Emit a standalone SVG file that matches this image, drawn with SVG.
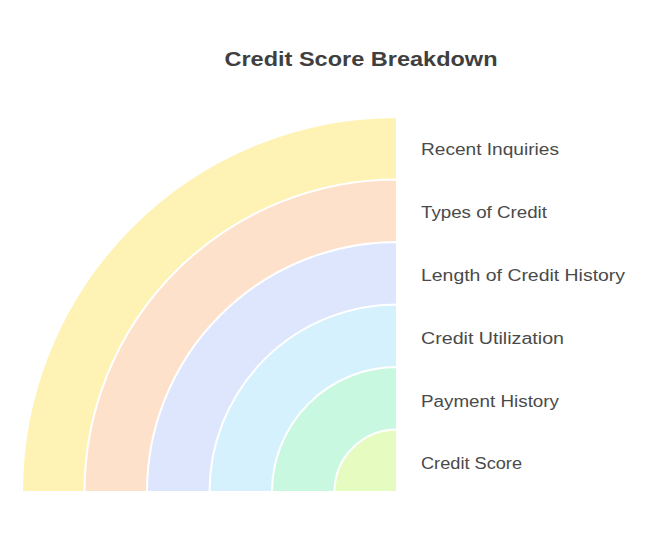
<svg xmlns="http://www.w3.org/2000/svg" width="650" height="536" viewBox="0 0 650 536">
<style>
.band{stroke:#ffffff;stroke-width:2;stroke-linejoin:round}
.lbl{font-family:"Liberation Sans",Arial,sans-serif;font-size:16px;fill:#4a4a4a}
.title{font-family:"Liberation Sans",Arial,sans-serif;font-size:21px;font-weight:bold;fill:#3f3f3f}
</style>
<rect width="650" height="536" fill="#ffffff"/>
<text class="title" x="361" y="66" text-anchor="middle" textLength="273" lengthAdjust="spacingAndGlyphs">Credit Score Breakdown</text>
<g id="recent-inquiries">
<path class="band" fill="#fef3b4" d="M397 492 L22 492 A375 375 0 0 1 397 117 Z"/>
<text class="lbl" x="421" y="155" textLength="138" lengthAdjust="spacingAndGlyphs">Recent Inquiries</text>
</g>
<g id="types-of-credit">
<path class="band" fill="#fee1cb" d="M397 492 L84.5 492 A312.5 312.5 0 0 1 397 179.5 Z"/>
<text class="lbl" x="421" y="218" textLength="126" lengthAdjust="spacingAndGlyphs">Types of Credit</text>
</g>
<g id="length-of-credit-history">
<path class="band" fill="#dde6fd" d="M397 492 L147 492 A250 250 0 0 1 397 242 Z"/>
<text class="lbl" x="421" y="281" textLength="204" lengthAdjust="spacingAndGlyphs">Length of Credit History</text>
</g>
<g id="credit-utilization">
<path class="band" fill="#d5f1fd" d="M397 492 L209.5 492 A187.5 187.5 0 0 1 397 304.5 Z"/>
<text class="lbl" x="421" y="344" textLength="143" lengthAdjust="spacingAndGlyphs">Credit Utilization</text>
</g>
<g id="payment-history">
<path class="band" fill="#c8f9e0" d="M397 492 L272 492 A125 125 0 0 1 397 367 Z"/>
<text class="lbl" x="421" y="407" textLength="138" lengthAdjust="spacingAndGlyphs">Payment History</text>
</g>
<g id="credit-score">
<path class="band" fill="#e6fbc0" d="M397 492 L334.5 492 A62.5 62.5 0 0 1 397 429.5 Z"/>
<text class="lbl" x="421" y="469" textLength="101" lengthAdjust="spacingAndGlyphs">Credit Score</text>
</g>
<g id="connectors"></g>
</svg>
